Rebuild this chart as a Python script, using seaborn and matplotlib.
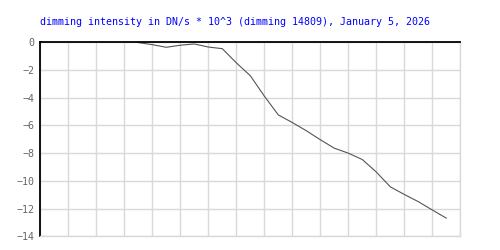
import numpy as np
import pandas as pd
import matplotlib
matplotlib.use("Agg")
import matplotlib.pyplot as plt
import seaborn as sns

# data
time_pos = [3.5, 4.0, 4.5, 5.0, 5.5, 6.0, 6.5, 7.0, 7.5, 8.0, 8.5, 9.0, 9.5,
            10.0, 10.5, 11.0, 11.5, 12.0, 12.5, 13.0, 13.5, 14.0, 14.5]
intensity = [-0.02, -0.17, -0.36, -0.21, -0.12, -0.34, -0.46, -1.48, -2.41, -3.88,
             -5.24, -5.79, -6.38, -7.03, -7.64, -8.0, -8.46, -9.36, -10.43, -10.98,
             -11.5, -12.1, -12.69]
y_ticks = [0, -2, -4, -6, -8, -10, -12, -14]
title = "dimming intensity in DN/s * 10^3 (dimming 14809), January 5, 2026"

sns.set_style("white")
plt.rcParams['font.family'] = ['DejaVu Sans Mono', 'DejaVu Sans']

df = pd.DataFrame({"t": time_pos, "v": intensity})

fig = plt.figure(figsize=(5, 2.5), dpi=100)
ax = fig.add_axes([0.0806, 0.0548, 0.84, 0.776])
sns.lineplot(data=df, x="t", y="v", ax=ax, color="#555555", linewidth=0.8)

ax.set_xlim(0, 15)
ax.set_ylim(-14, 0)
ax.set_xticks(np.arange(0, 16, 1))
ax.set_xticklabels([])
ax.set_yticks(y_ticks)
ax.set_yticklabels([str(v).replace('-', '\u2212') for v in y_ticks])
ax.grid(True, color="#d9d9d9", linewidth=1.0)
ax.set_axisbelow(True)
ax.tick_params(axis='both', length=0, pad=4.5, labelsize=7.2, labelcolor="#666666")
ax.set_xlabel("")
ax.set_ylabel("")
for s in ["right", "bottom"]:
    ax.spines[s].set_color("#d9d9d9")
    ax.spines[s].set_linewidth(1.0)
for s in ["top", "left"]:
    ax.spines[s].set_color("black")
    ax.spines[s].set_linewidth(1.3)

fig.text(0.08, 0.912, title, color="#0000ff", fontsize=7.2, ha="left", va="center",
         family=['DejaVu Sans Mono'])

fig.savefig("out.png", dpi=100)
